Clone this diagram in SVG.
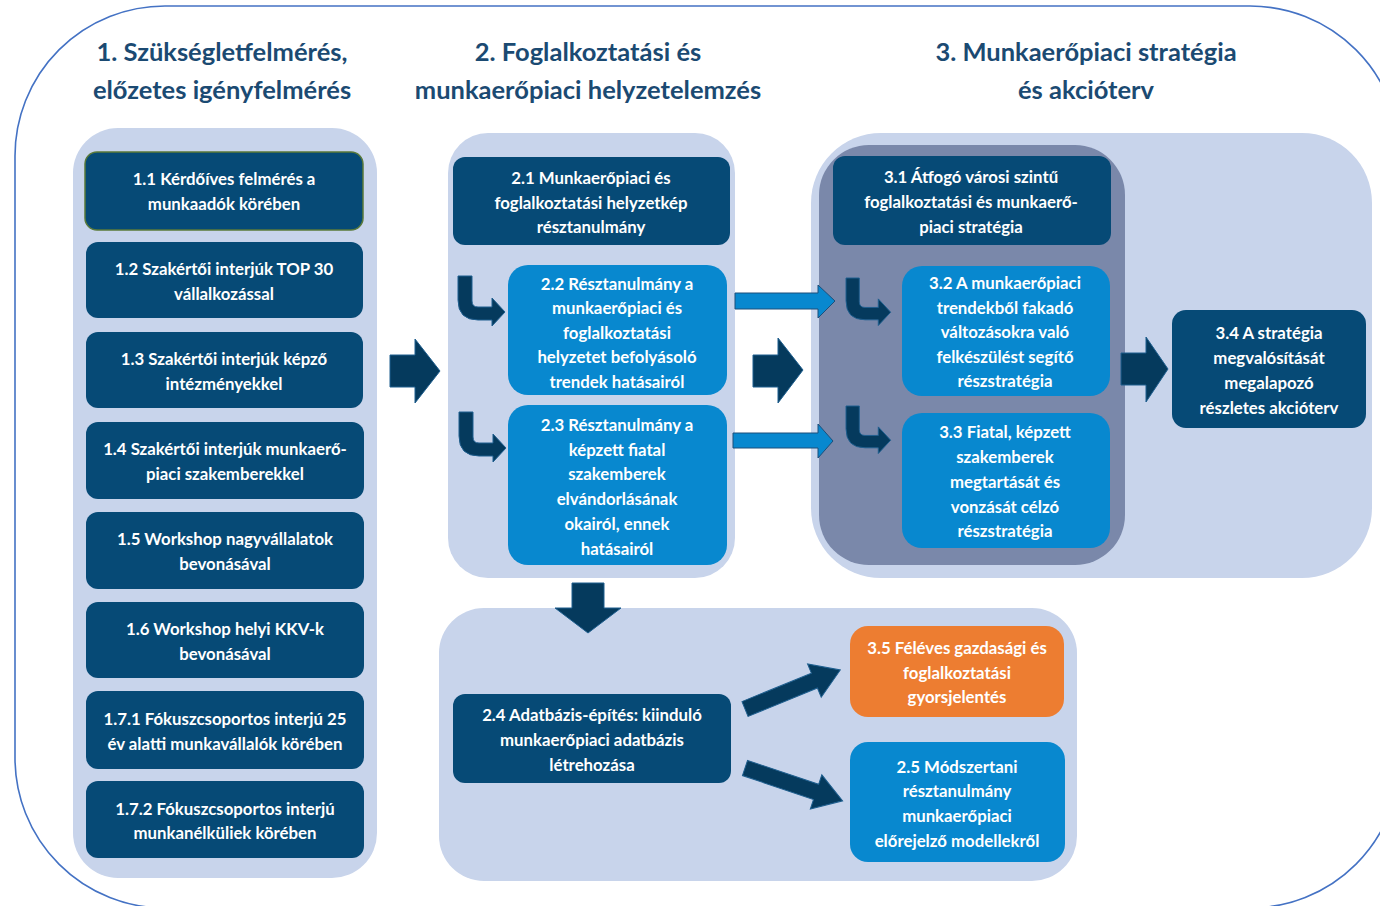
<svg xmlns="http://www.w3.org/2000/svg" width="1380" height="906" viewBox="0 0 1380 906">
<style>
.hdr{font-family:Lato,"Liberation Sans",sans-serif;font-weight:700;font-size:25.5px;fill:#1b4a72;text-anchor:middle}
.t{font-family:Lato,"Liberation Sans",sans-serif;font-weight:700;font-size:16.8px;fill:#ffffff;text-anchor:middle}
.navy{fill:#064a76}
.blue{fill:#0888cf}
.orange{fill:#ed7d31}
.panel{fill:#c8d4eb}
.gray{fill:#7a88aa}
.bigarrow{fill:#053a5d;stroke:#1f5f8f;stroke-width:1}
.barrow{fill:#0888cf;stroke:#1c4f7a;stroke-width:1}
</style>
<defs>
<path id="bent" d="M0,0 H14 V25 Q14,31 20,31 H34 V22 L47,36 L34,50 V44 H20 Q0,44 0,24 Z"/>
</defs>
<rect width="1380" height="906" fill="#ffffff"/>
<rect x="15" y="6" width="1385" height="902" rx="150" ry="150" fill="none" stroke="#4472c4" stroke-width="1.6"/>

<g id="headers">
<text class="hdr" x="222" y="61">1. Szükségletfelmérés,</text>
<text class="hdr" x="222" y="99">előzetes igényfelmérés</text>
<text class="hdr" x="588" y="61">2. Foglalkoztatási és</text>
<text class="hdr" x="588" y="99">munkaerőpiaci helyzetelemzés</text>
<text class="hdr" x="1086" y="61">3. Munkaerőpiaci stratégia</text>
<text class="hdr" x="1086" y="99">és akcióterv</text>
</g>

<g id="panels">
<rect class="panel" x="73" y="128" width="304" height="750" rx="45"/>
<rect class="panel" x="448" y="133" width="287" height="445" rx="40"/>
<rect class="panel" x="811" y="133" width="561" height="445" rx="70"/>
<rect class="gray" x="819" y="145" width="306" height="420" rx="50"/>
<rect class="panel" x="439" y="608" width="638" height="273" rx="45"/>
</g>

<g id="n1_1"><rect class="navy" x="85" y="152" width="278" height="78" rx="12" stroke="#5a7a3a" stroke-width="1.5"/>
<text class="t" x="224" y="185">1.1 Kérdőíves felmérés a</text><text class="t" x="224" y="210">munkaadók körében</text></g>
<g id="n1_2"><rect class="navy" x="86" y="242" width="277" height="76" rx="12"/>
<text class="t" x="224" y="275">1.2 Szakértői interjúk TOP 30</text><text class="t" x="224" y="300">vállalkozással</text></g>
<g id="n1_3"><rect class="navy" x="86" y="332" width="277" height="76" rx="12"/>
<text class="t" x="224" y="365">1.3 Szakértői interjúk képző</text><text class="t" x="224" y="390">intézményekkel</text></g>
<g id="n1_4"><rect class="navy" x="86" y="422" width="278" height="77" rx="12"/>
<text class="t" x="225" y="455">1.4 Szakértői interjúk munkaerő-</text><text class="t" x="225" y="480">piaci szakemberekkel</text></g>
<g id="n1_5"><rect class="navy" x="86" y="512" width="278" height="77" rx="12"/>
<text class="t" x="225" y="545">1.5 Workshop nagyvállalatok</text><text class="t" x="225" y="570">bevonásával</text></g>
<g id="n1_6"><rect class="navy" x="86" y="602" width="278" height="76" rx="12"/>
<text class="t" x="225" y="635">1.6 Workshop helyi KKV-k</text><text class="t" x="225" y="660">bevonásával</text></g>
<g id="n1_7_1"><rect class="navy" x="86" y="691" width="278" height="78" rx="12"/>
<text class="t" x="225" y="725">1.7.1 Fókuszcsoportos interjú 25</text><text class="t" x="225" y="750">év alatti munkavállalók körében</text></g>
<g id="n1_7_2"><rect class="navy" x="86" y="781" width="278" height="77" rx="12"/>
<text class="t" x="225" y="815">1.7.2 Fókuszcsoportos interjú</text><text class="t" x="225" y="839">munkanélküliek körében</text></g>

<g id="n2_1"><rect class="navy" x="453" y="157" width="277" height="88" rx="12"/>
<text class="t" x="591" y="184">2.1 Munkaerőpiaci és</text><text class="t" x="591" y="209">foglalkoztatási helyzetkép</text><text class="t" x="591" y="233">résztanulmány</text></g>
<g id="n2_2"><rect class="blue" x="508" y="265" width="219" height="130" rx="20"/>
<text class="t" x="617" y="290">2.2 Résztanulmány a</text><text class="t" x="617" y="314">munkaerőpiaci és</text><text class="t" x="617" y="339">foglalkoztatási</text><text class="t" x="617" y="363">helyzetet befolyásoló</text><text class="t" x="617" y="388">trendek hatásairól</text></g>
<g id="n2_3"><rect class="blue" x="508" y="405" width="219" height="160" rx="20"/>
<text class="t" x="617" y="431">2.3 Résztanulmány a</text><text class="t" x="617" y="456">képzett fiatal</text><text class="t" x="617" y="480">szakemberek</text><text class="t" x="617" y="505">elvándorlásának</text><text class="t" x="617" y="530">okairól, ennek</text><text class="t" x="617" y="555">hatásairól</text></g>

<g id="n3_1"><rect class="navy" x="833" y="156" width="278" height="89" rx="12"/>
<text class="t" x="971" y="183">3.1 Átfogó városi szintű</text><text class="t" x="971" y="208">foglalkoztatási és munkaerő-</text><text class="t" x="971" y="233">piaci stratégia</text></g>
<g id="n3_2"><rect class="blue" x="902" y="266" width="208" height="130" rx="20"/>
<text class="t" x="1005" y="289">3.2 A munkaerőpiaci</text><text class="t" x="1005" y="314">trendekből fakadó</text><text class="t" x="1005" y="338">változásokra való</text><text class="t" x="1005" y="363">felkészülést segítő</text><text class="t" x="1005" y="387">részstratégia</text></g>
<g id="n3_3"><rect class="blue" x="902" y="413" width="208" height="135" rx="20"/>
<text class="t" x="1005" y="438">3.3 Fiatal, képzett</text><text class="t" x="1005" y="463">szakemberek</text><text class="t" x="1005" y="488">megtartását és</text><text class="t" x="1005" y="513">vonzását célzó</text><text class="t" x="1005" y="537">részstratégia</text></g>
<g id="n3_4"><rect class="navy" x="1172" y="310" width="194" height="118" rx="14"/>
<text class="t" x="1269" y="339">3.4 A stratégia</text><text class="t" x="1269" y="364">megvalósítását</text><text class="t" x="1269" y="389">megalapozó</text><text class="t" x="1269" y="414">részletes akcióterv</text></g>

<g id="n2_4"><rect class="navy" x="453" y="694" width="278" height="89" rx="12"/>
<text class="t" x="592" y="721">2.4 Adatbázis-építés: kiinduló</text><text class="t" x="592" y="746">munkaerőpiaci adatbázis</text><text class="t" x="592" y="771">létrehozása</text></g>
<g id="n3_5"><rect class="orange" x="850" y="626" width="214" height="91" rx="18"/>
<text class="t" x="957" y="654">3.5 Féléves gazdasági és</text><text class="t" x="957" y="679">foglalkoztatási</text><text class="t" x="957" y="703">gyorsjelentés</text></g>
<g id="n2_5"><rect class="blue" x="850" y="742" width="215" height="120" rx="18"/>
<text class="t" x="957" y="773">2.5 Módszertani</text><text class="t" x="957" y="797">résztanulmány</text><text class="t" x="957" y="822">munkaerőpiaci</text><text class="t" x="957" y="847">előrejelző modellekről</text></g>

<g id="connectors">
<polygon class="bigarrow" points="390,355 415,355 415,339 440,371 415,403 415,387 390,387"/>
<polygon class="bigarrow" points="753,355 778,355 778,338 803,370 778,403 778,387 753,387"/>
<polygon class="bigarrow" points="1121,353 1146,353 1146,337 1168,369 1146,402 1146,385 1121,385"/>
<polygon class="bigarrow" points="572,583 604,583 604,608 621,608 588,633 555,608 572,608"/>
<polygon class="barrow" points="735,293 818,293 818,285 835,301 818,318 818,309 735,309"/>
<polygon class="barrow" points="733,433 818,433 818,424 833,441 818,458 818,448 733,448"/>
<use href="#bent" class="bigarrow" transform="translate(458,276)"/>
<use href="#bent" class="bigarrow" transform="translate(459,412)"/>
<use href="#bent" class="bigarrow" transform="translate(846,278) scale(0.95)"/>
<use href="#bent" class="bigarrow" transform="translate(846,406) scale(0.95)"/>
<polygon class="bigarrow" transform="translate(745,709) rotate(-22.3)" points="0,-8 75,-8 75,-18 103,0 75,18 75,8 0,8"/>
<polygon class="bigarrow" transform="translate(745,768) rotate(18.6)" points="0,-8 75,-8 75,-18 103,0 75,18 75,8 0,8"/>
</g>
</svg>
